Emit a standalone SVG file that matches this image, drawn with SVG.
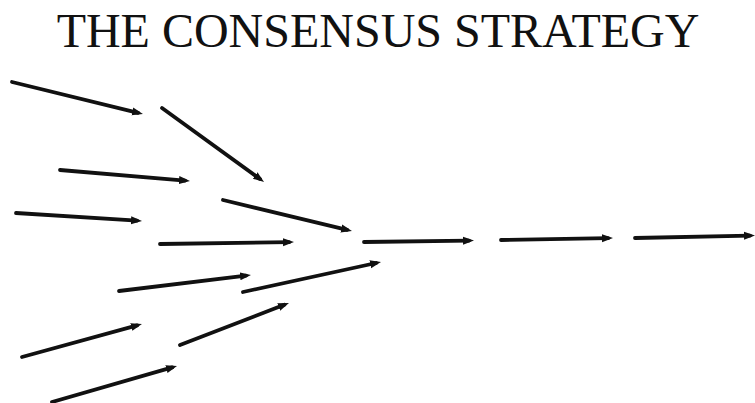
<svg xmlns="http://www.w3.org/2000/svg" width="755" height="403" viewBox="0 0 755 403">
<style>
.title{font-family:"Liberation Serif","Times New Roman",serif;font-size:48px;fill:#111;}
.arr{stroke:#111;stroke-width:3.8;fill:none;stroke-linecap:round;marker-end:url(#ah);}
</style>
<defs>
<marker id="ah" markerUnits="userSpaceOnUse" markerWidth="12" markerHeight="9" refX="6" refY="4" orient="auto" viewBox="0 0 12 8">
<path d="M0,0 L11,4 L0,8 z" fill="#111"/>
</marker>
</defs>
<rect width="755" height="403" fill="#fff"/>
<g id="title"><text class="title" x="378" y="47" text-anchor="middle">THE CONSENSUS STRATEGY</text></g>
<g id="connectors">
<line class="arr" x1="12" y1="82" x2="138.1" y2="112.8"/>
<line class="arr" x1="162" y1="108" x2="260" y2="179"/>
<line class="arr" x1="60" y1="170" x2="185" y2="180.6"/>
<line class="arr" x1="16" y1="213" x2="137" y2="220.6"/>
<line class="arr" x1="223" y1="200" x2="347.1" y2="229.9"/>
<line class="arr" x1="160" y1="244" x2="289" y2="242.1"/>
<line class="arr" x1="364" y1="242" x2="469" y2="240.6"/>
<line class="arr" x1="501" y1="240" x2="608" y2="238.1"/>
<line class="arr" x1="635" y1="238" x2="750" y2="235.6"/>
<line class="arr" x1="119" y1="291" x2="246" y2="275.6"/>
<line class="arr" x1="243" y1="292" x2="376.1" y2="263"/>
<line class="arr" x1="22" y1="357" x2="137.1" y2="325.4"/>
<line class="arr" x1="180" y1="345" x2="284.3" y2="304.8"/>
<line class="arr" x1="52" y1="402" x2="172.2" y2="367.4"/>
</g>
</svg>
